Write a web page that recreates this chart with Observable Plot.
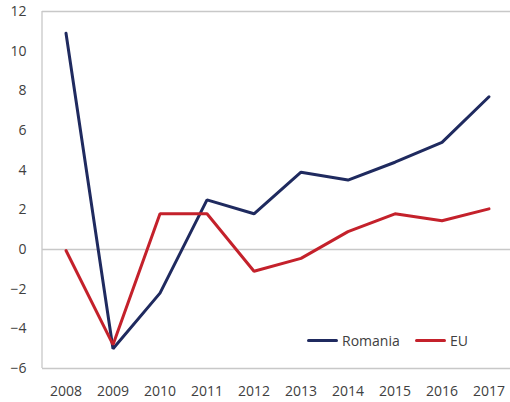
<!DOCTYPE html>
<html>
<head>
<meta charset="utf-8">
<script src="https://cdn.jsdelivr.net/npm/d3@7"></script>
<script src="https://cdn.jsdelivr.net/npm/@observablehq/plot@0.6"></script>
<style>
  body { margin: 0; background: #fff; }
  #wrap { position: relative; width: 510px; height: 402px; font-family: "Open Sans", sans-serif; }
  .item { position: absolute; top: 330px; display: flex; align-items: center; font-size: 14px; color: #404040; height: 20px; }
  .sw { display: inline-block; width: 31px; height: 3px; margin-right: 4px; border-radius: 1.5px; }
</style>
</head>
<body>
<div id="wrap"></div>
<script>
const years = [2008, 2009, 2010, 2011, 2012, 2013, 2014, 2015, 2016, 2017];
const romania = [10.9, -5.0, -2.2, 2.5, 1.8, 3.9, 3.5, 4.4, 5.4, 7.7];
const eu = [-0.05, -4.8, 1.8, 1.8, -1.1, -0.45, 0.9, 1.8, 1.45, 2.05];
const yTicks = [-6, -4, -2, 0, 2, 4, 6, 8, 10, 12];
const seriesNames = ["Romania", "EU"];
const seriesColors = ["#1f2a5f", "#c4212b"];

const data = [
  ...years.map((y, i) => ({year: String(y), value: romania[i], series: "Romania"})),
  ...years.map((y, i) => ({year: String(y), value: eu[i], series: "EU"}))
];

const chart = Plot.plot({
  width: 510,
  height: 402,
  marginLeft: 42,
  marginRight: 0,
  marginTop: 11,
  marginBottom: 34,
  style: {fontFamily: "'Open Sans', sans-serif", fontSize: "14px", color: "#404040"},
  x: {type: "point", domain: years.map(String), padding: 0.5, round: false, range: [42, 512], label: null},
  y: {domain: [-6, 12], ticks: yTicks, label: null},
  color: {domain: seriesNames, range: seriesColors},
  marks: [
    Plot.ruleY([0], {stroke: "#c8c8c8", strokeWidth: 1.3}),
    Plot.ruleY([12], {stroke: "#c8c8c8", strokeWidth: 1.3}),
    Plot.ruleY([-6], {stroke: "#c8c8c8", strokeWidth: 1.3}),
    Plot.axisY({ticks: yTicks, tickSize: 0, tickPadding: 16, fill: "#404040", fontSize: 14}),
    Plot.axisX({tickSize: 0, tickPadding: 18, fill: "#404040", fontSize: 14}),
    Plot.line(data, {x: "year", y: "value", z: "series", stroke: "series", strokeWidth: 3, strokeLinejoin: "miter", strokeLinecap: "round"})
  ]
});
const wrap = document.getElementById("wrap");
wrap.appendChild(chart);
// left frame line
const svg = d3.select(chart);
svg.append("line").attr("x1", 42).attr("x2", 42).attr("y1", 11).attr("y2", 368).attr("stroke", "#c8c8c8").attr("stroke-width", 1.3);

const legendLefts = [307, 415];
seriesNames.forEach((n, i) => {
  const it = document.createElement("div");
  it.className = "item";
  it.style.left = legendLefts[i] + "px";
  const sw = document.createElement("span");
  sw.className = "sw";
  sw.style.background = seriesColors[i];
  it.appendChild(sw);
  it.appendChild(document.createTextNode(n));
  wrap.appendChild(it);
});
</script>
</body>
</html>
